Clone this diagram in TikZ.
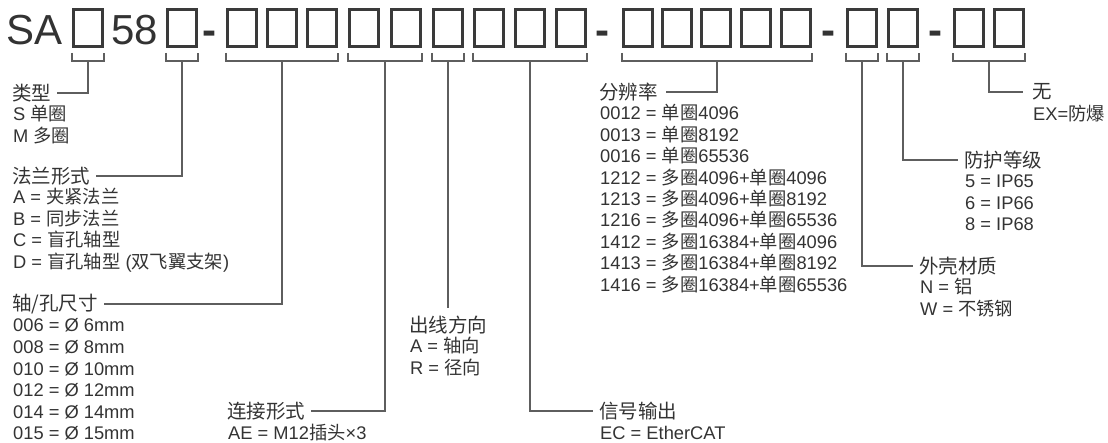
\documentclass[tikz,border=0pt]{standalone}
\usepackage{fontspec}
\setmainfont{Liberation Sans}
\newfontfamily\cjk{Noto Sans CJK SC}
\newcommand{\zh}[1]{{\cjk #1}}
\definecolor{ink}{HTML}{333333}
\definecolor{wire}{HTML}{5E5E5E}
\definecolor{boxc}{HTML}{3A3A3A}

\begin{document}
\begin{tikzpicture}[x=1pt, y=-1pt,
  cell/.style={draw=boxc, line width=2.8pt},
  brk/.style={draw=wire, line width=1.2pt},
  lead/.style={draw=wire, line width=1.2pt, shorten >=6pt},
  big/.style={font=\fontsize{42pt}{48pt}\selectfont, text=ink, inner sep=0pt, anchor=base west},
  head/.style={font=\fontsize{19.5pt}{23pt}\selectfont, text=ink, inner sep=0pt, anchor=west},
  item/.style={font=\fontsize{18.3pt}{21pt}\selectfont, text=ink, inner sep=0pt, anchor=base west}]
\useasboundingbox (0,0) rectangle (1108,443);

% model code
\node[big] (sa) at (6,45) {SA};
\node[big] (num) at (111,45) {58};
\node[big, font=\fontsize{42pt}{48pt}\bfseries] (dash1) at (202,45) {-};
\node[big, font=\fontsize{42pt}{48pt}\bfseries] (dash2) at (595,45) {-};
\node[big, font=\fontsize{42pt}{48pt}\bfseries] (dash3) at (821,45) {-};
\node[big, font=\fontsize{42pt}{48pt}\bfseries] (dash4) at (928,45) {-};
\foreach \x in {72,166,226,266,306,348,390,432,473,514,555,622,661,700,740,780,846,887,953,993}
  \draw[cell] (\x+1.4,9.4) rectangle (\x+30.6,46.6);

% brackets under the boxes
\foreach \l/\r/\n in {72/104/b1, 166/198/b2, 226/338/b3, 348/422/b4, 432/464/b5,
    473/587/b6, 622/812/b7, 846/878/b8, 887/919/b9, 953/1025/b10} {
  \draw[brk] (\l,53) -- (\l,61) -- (\r,61) -- (\r,53);
  \coordinate (\n) at ({(\l+\r)/2},61);
}

% left column
\node[head] (type) at (12,93) {\zh{类型}};
\foreach \t [count=\i] in {S \zh{单圈}, M \zh{多圈}}
  \node[item] (type-\i) at (13,93+21.5*\i+6.5) {\t};
\draw[lead] (b1) |- (type.east);

\node[head] (flange) at (12,176) {\zh{法兰形式}};
\foreach \t [count=\i] in {A = \zh{夹紧法兰}, B = \zh{同步法兰}, C = \zh{盲孔轴型},
    D = \zh{盲孔轴型} (\zh{双飞翼支架})}
  \node[item] (flange-\i) at (13,176+21.5*\i+6.5) {\t};
\draw[lead] (b2) |- (flange.east);

\node[head] (shaft) at (12,304) {\zh{轴/孔尺寸}};
\foreach \t [count=\i] in {006 = Ø 6mm, 008 = Ø 8mm, 010 = Ø 10mm, 012 = Ø 12mm,
    014 = Ø 14mm, 015 = Ø 15mm}
  \node[item] (shaft-\i) at (13,304+21.5*\i+6.5) {\t};
\draw[lead] (b3) |- (shaft.east);

% middle
\node[head] (conn) at (227,411) {\zh{连接形式}};
\node[item] (conn-1) at (228,411+21.5+6.5) {AE = M12\zh{插头}×3};
\draw[lead] (b4) |- (conn.east);

\node[head] (outlet) at (409,325) {\zh{出线方向}};
\foreach \t [count=\i] in {A = \zh{轴向}, R = \zh{径向}}
  \node[item] (outlet-\i) at (410,325+21.5*\i+6.5) {\t};
\draw[lead, shorten >=8pt] (b5) -- (b5 |- outlet.north);

\node[head] (signal) at (599,411) {\zh{信号输出}};
\node[item] (signal-1) at (600,411+21.5+6.5) {EC = EtherCAT};
\draw[lead] (b6) |- (signal.west);

\node[head] (res) at (599,92) {\zh{分辨率}};
\foreach \t [count=\i] in {0012 = \zh{单圈}4096, 0013 = \zh{单圈}8192, 0016 = \zh{单圈}65536,
    1212 = \zh{多圈}4096+\zh{单圈}4096, 1213 = \zh{多圈}4096+\zh{单圈}8192,
    1216 = \zh{多圈}4096+\zh{单圈}65536, 1412 = \zh{多圈}16384+\zh{单圈}4096,
    1413 = \zh{多圈}16384+\zh{单圈}8192, 1416 = \zh{多圈}16384+\zh{单圈}65536}
  \node[item] (res-\i) at (600,92+21.4*\i+6.5) {\t};
\draw[lead, shorten >=8pt] (b7) |- (res.east);

% right column
\node[head] (housing) at (919,266) {\zh{外壳材质}};
\foreach \t [count=\i] in {N = \zh{铝}, W = \zh{不锈钢}}
  \node[item] (housing-\i) at (920,266+21.5*\i+6.5) {\t};
\draw[lead] (b8) |- (housing.west);

\node[head] (ip) at (964,160) {\zh{防护等级}};
\foreach \t [count=\i] in {5 = IP65, 6 = IP66, 8 = IP68}
  \node[item] (ip-\i) at (965,160+21.5*\i+6.5) {\t};
\draw[lead] (b9) |- (ip.west);

\node[head] (ex) at (1032,92) {\zh{无}};
\node[item] (ex-1) at (1033,92+22.5+6.5) {EX=\zh{防爆}};
\draw[lead, shorten >=9pt] (b10) |- (ex.west);
\end{tikzpicture}
\end{document}
